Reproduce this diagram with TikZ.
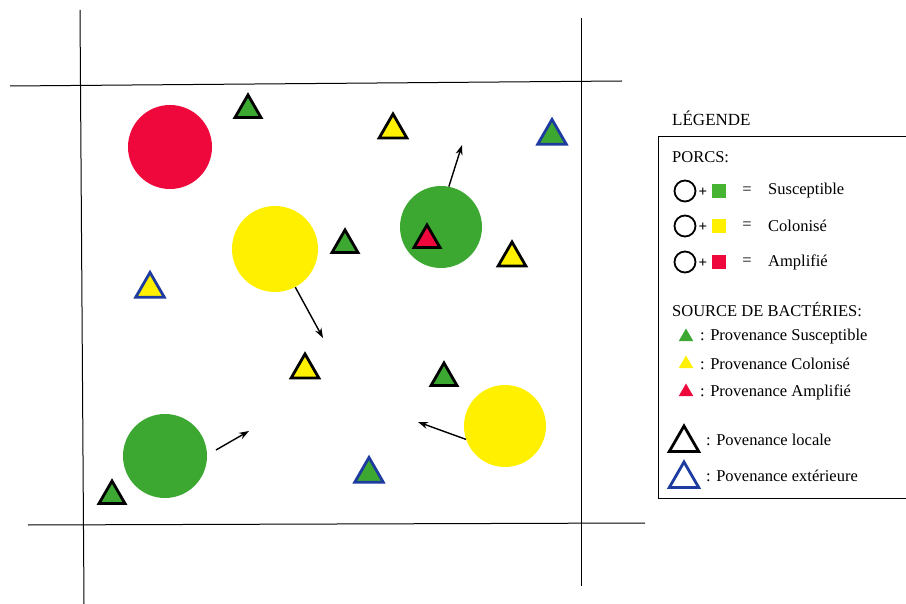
\documentclass[tikz,border=0pt]{standalone}
\usepackage{fontspec}
\setmainfont{Liberation Serif}
\usetikzlibrary{shapes.geometric,arrows.meta}
\definecolor{pgreen}{RGB}{60,168,50}
\definecolor{lgreen}{RGB}{70,180,50}
\definecolor{pyellow}{RGB}{255,240,0}
\definecolor{pred}{RGB}{238,8,60}
\definecolor{pblue}{RGB}{30,60,160}
\begin{document}
\begin{tikzpicture}[x=1pt,y=-1pt,
  pig/.style={circle,minimum size=84pt,inner sep=0},
  tri/.style={regular polygon,regular polygon sides=3,minimum size=30pt,inner sep=0,line width=2.8pt,draw=black},
  ext/.style={draw=pblue,minimum size=33pt},
  move/.style={-{Stealth[length=10pt,width=7pt]},line width=1.4pt},
  frame/.style={line width=1pt},
  lbl/.style={anchor=west,inner sep=0,font=\fontsize{16.5}{18}\selectfont},
  swatch/.style={minimum size=14pt,inner sep=0},
  ring/.style={circle,draw,line width=1.8pt,minimum size=21pt,inner sep=0},
  smalltri/.style={regular polygon,regular polygon sides=3,minimum size=17pt,inner sep=0},
  bigtri/.style={regular polygon,regular polygon sides=3,minimum size=34pt,inner sep=0,line width=2.8pt}]
\useasboundingbox (0,0) rectangle (906,604);
% frame lines
\draw[frame] (80,10) -- (84,604);
\draw[frame] (581,18) -- (581,586);
\draw[frame] (10,86) -- (622,81);
\draw[frame] (28,525) -- (645,523);
% pigs
\node[pig,fill=pred] (r1) at (170,147) {};
\node[pig,fill=pyellow,minimum size=86pt] (y1) at (275,249) {};
\node[pig,fill=pgreen,minimum size=82pt] (g1) at (441,227) {};
\node[pig,fill=pyellow,minimum size=82pt] (y2) at (505,426) {};
\node[pig,fill=pgreen] (g2) at (165,456) {};
% bacteria sources
\node[tri,fill=pgreen] (t1) at (248,110) {};
\node[tri,fill=pyellow,minimum size=32pt] (t2) at (393,130) {};
\node[tri,ext,fill=pgreen] (t3) at (552,136) {};
\node[tri,fill=pgreen] (t4) at (345,245) {};
\node[tri,fill=pred] (t5) at (427,240) {};
\node[tri,fill=pyellow,minimum size=32pt] (t6) at (512,258) {};
\node[tri,ext,fill=pyellow] (t7) at (150,289) {};
\node[tri,fill=pyellow,minimum size=32pt] (t8) at (305,370) {};
\node[tri,fill=pgreen] (t9) at (444,378) {};
\node[tri,ext,fill=pgreen] (t10) at (369,474) {};
\node[tri,fill=pgreen] (t11) at (112,496) {};
% movements
\coordinate (m1) at (462,145);
\coordinate (m2) at (323,338);
\coordinate (m3s) at (216,450);
\coordinate (m3) at (249,431);
\coordinate (m4) at (418,422);
\draw[move] (g1.79) -- (m1);
\draw[move] (y1.-62) -- (m2);
\draw[move] (m3s) -- (m3);
\draw[move] (y2.199) -- (m4);
% legend
\node[lbl,font=\fontsize{17}{19}\selectfont] (lt) at (672,118) {LÉGENDE};
\draw[line width=0.9pt] (906,136) -- (658,136) -- (658,498) -- (906,498);
\node[lbl] (lp) at (672,157) {PORCS:};
\foreach \y/\c/\t/\n in {191/lgreen/Susceptible/a,226/pyellow/Colonisé/b,262/pred/Amplifié/c}{
  \node[ring] (ring\n) at (685,\y) {};
  \node[inner sep=0,font=\bfseries\fontsize{15}{15}\selectfont] (plus\n) at (703,\y+1) {+};
  \node[swatch,fill=\c] (sw\n) at (719,\y) {};
  \node[inner sep=0,font=\fontsize{16.5}{18}\selectfont] (eq\n) at (747,\y) {=};
  \node[lbl] (txt\n) at (768,\y) {\t};
}
\node[lbl] (ls) at (672,310) {SOURCE DE BACTÉRIES:};
\foreach \y/\c/\t/\n in {337/pgreen/Susceptible/a,364/pyellow/Colonisé/b,392/pred/Amplifié/c}{
  \node[smalltri,fill=\c] (st\n) at (686,\y) {};
  \node[lbl] (stt\n) at (700,\y) {: Provenance \t};
}
\node[bigtri,draw=black] (bl) at (684,443) {};
\node[lbl] (blt) at (706,440) {: Povenance locale};
\node[bigtri,draw=pblue] (be) at (684,479) {};
\node[lbl] (bet) at (706,476) {: Povenance extérieure};
\end{tikzpicture}
\end{document}
